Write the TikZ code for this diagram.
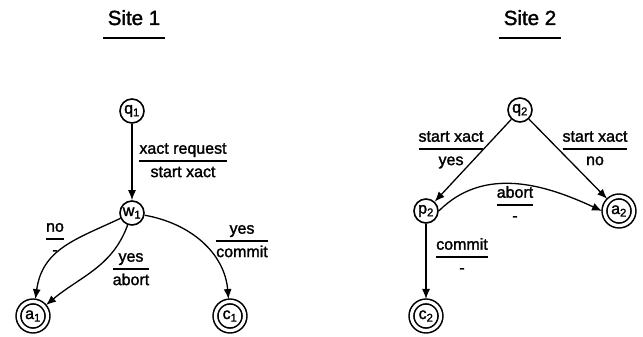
\documentclass[tikz,border=0pt]{standalone}
\usepackage{fontspec}
\setmainfont[FakeBold=1.2]{Liberation Sans}
\newfontfamily\thickfont[FakeBold=1.6]{Liberation Sans}
\usetikzlibrary{arrows.meta}
\newcommand{\edgelbl}[2]{{\renewcommand{\arraystretch}{1.15}\setlength{\arrayrulewidth}{1.3pt}\begin{tabular}{@{}c@{}}#1\\\hline #2\end{tabular}}}
\begin{document}
\begin{tikzpicture}[x=1pt,y=1pt,
  state/.style={circle,draw,line width=1.6pt,minimum size=24pt,inner sep=0pt,font=\thickfont\fontsize{16}{18}\selectfont},
  accept/.style={state,double,double distance=3.2pt,minimum size=29pt,outer sep=2.5pt},
  edge/.style={line width=1.3pt,-{Latex[length=10pt,width=8pt]}},
  lbl/.style={inner sep=0pt,font=\thickfont\fontsize{16}{19.2}\selectfont},
  title/.style={inner sep=0pt,anchor=base,font=\thickfont\fontsize{20.5}{24}\selectfont},
  uline/.style={line width=2.2pt}]
\useasboundingbox (0,0) rectangle (643,337);
\fill[white] (0,0) rectangle (643,337);
% titles
\node[title] (t1) at (134,312) {Site 1};
\draw[uline] ([xshift=-5pt,yshift=-13pt]t1.base west) -- ([xshift=5pt,yshift=-13pt]t1.base east);
\node[title] (t2) at (530,312) {Site 2};
\draw[uline] ([xshift=-5pt,yshift=-13pt]t2.base west) -- ([xshift=5pt,yshift=-13pt]t2.base east);
% site 1
\node[state] (q1) at (132,226) {q\textsubscript{1}};
\node[state] (w1) at (132,124) {w\textsubscript{1}};
\node[accept] (a1) at (33,21) {a\textsubscript{1}};
\node[accept] (c1) at (230,21) {c\textsubscript{1}};
\draw[edge] (q1) -- (w1);
\draw[edge] (w1) to[out=205,in=82,looseness=1.1] (a1);
\draw[edge] (w1) to[out=250,in=40] (a1);
\draw[edge] (w1) to[out=-10,in=95] (c1);
\node[lbl] (l1) at (183,176) {\edgelbl{xact request}{start xact}};
\node[lbl] (l2) at (55,98) {\edgelbl{no}{-}};
\node[lbl] (l3) at (131,68) {\edgelbl{yes}{abort}};
\node[lbl] (l4) at (242,96) {\edgelbl{yes}{commit}};
% site 2
\node[state] (q2) at (520,227) {q\textsubscript{2}};
\node[state] (p2) at (426,126) {p\textsubscript{2}};
\node[accept] (a2) at (619,126) {a\textsubscript{2}};
\node[accept] (c2) at (426,21) {c\textsubscript{2}};
\draw[edge] (q2) -- (p2);
\draw[edge] (q2) -- (a2);
\draw[edge] (p2.east) to[out=45,in=155] (a2.west);
\draw[edge] (p2) -- (c2);
\node[lbl] (l5) at (451,188) {\edgelbl{start xact}{yes}};
\node[lbl] (l6) at (595,188) {\edgelbl{start xact}{no}};
\node[lbl] (l7) at (515,132) {\edgelbl{abort}{-}};
\node[lbl] (l8) at (462,80) {\edgelbl{commit}{-}};
\end{tikzpicture}
\end{document}
